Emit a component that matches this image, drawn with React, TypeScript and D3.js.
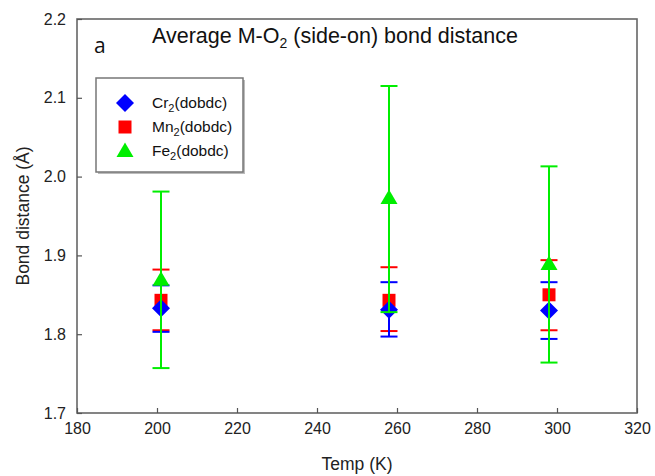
import React, { useEffect, useRef } from 'react';
import * as d3 from 'd3';

const temps = [201, 258, 298];

const crValues = [1.833, 1.831, 1.83];
const crLow = [1.803, 1.797, 1.794];
const crHigh = [1.862, 1.866, 1.866];

const mnValues = [1.843, 1.843, 1.85];
const mnLow = [1.805, 1.804, 1.805];
const mnHigh = [1.882, 1.885, 1.894];

const feValues = [1.869, 1.973, 1.889];
const feLow = [1.757, 1.828, 1.764];
const feHigh = [1.981, 2.115, 2.013];

const xTicks = [180, 200, 220, 240, 260, 280, 300, 320];
const yTicks = [1.7, 1.8, 1.9, 2.0, 2.1, 2.2];

const series = [
  { name: 'Mn', sub: '2', rest: '(dobdc)', color: '#ff0000', shape: 'square', values: mnValues, low: mnLow, high: mnHigh },
  { name: 'Cr', sub: '2', rest: '(dobdc)', color: '#0000ff', shape: 'diamond', values: crValues, low: crLow, high: crHigh },
  { name: 'Fe', sub: '2', rest: '(dobdc)', color: '#00ee00', shape: 'triangle', values: feValues, low: feLow, high: feHigh },
];
const legendOrder = ['Cr', 'Mn', 'Fe'];

const font = 'Arial, "Liberation Sans", sans-serif';

function markerPath(shape: string) {
  if (shape === 'diamond') return 'M0,-9L9,0L0,9L-9,0Z';
  if (shape === 'square') return 'M-6.5,-6.5L6.5,-6.5L6.5,6.5L-6.5,6.5Z';
  return 'M0,-8.5L8.5,6L-8.5,6Z';
}

export default function App() {
  const svgRef = useRef<SVGSVGElement>(null);

  useEffect(() => {
    const svg = d3.select(svgRef.current);
    svg.selectAll('*').remove();

    const left = 77;
    const right = 637;
    const top = 19;
    const bottom = 413;

    const x = d3.scaleLinear().domain([180, 320]).range([left, right]);
    const y = d3.scaleLinear().domain([1.7, 2.2]).range([bottom, top]);

    // frame
    svg
      .append('rect')
      .attr('x', left)
      .attr('y', top)
      .attr('width', right - left)
      .attr('height', bottom - top)
      .attr('fill', 'none')
      .attr('stroke', '#666')
      .attr('stroke-width', 1.6);

    const xAxis = svg
      .append('g')
      .attr('transform', `translate(0,${bottom})`)
      .call(d3.axisBottom(x).tickValues(xTicks).tickSize(-5).tickPadding(10).tickFormat(d3.format('d')));
    xAxis.select('.domain').remove();
    xAxis.selectAll('line').attr('stroke', '#555').attr('stroke-width', 1.2);
    xAxis
      .selectAll('text')
      .attr('fill', '#222')
      .style('font-family', font)
      .style('font-size', '16px');

    const yAxis = svg
      .append('g')
      .attr('transform', `translate(${left},0)`)
      .call(d3.axisLeft(y).tickValues(yTicks).tickSize(-5).tickPadding(11).tickFormat(d3.format('.1f')));
    yAxis.select('.domain').remove();
    yAxis.selectAll('line').attr('stroke', '#555').attr('stroke-width', 1.2);
    yAxis
      .selectAll('text')
      .attr('fill', '#222')
      .style('font-family', font)
      .style('font-size', '16px');

    svg
      .append('text')
      .attr('x', (left + right) / 2)
      .attr('y', 470)
      .attr('text-anchor', 'middle')
      .attr('fill', '#222')
      .style('font-family', font)
      .style('font-size', '17.5px')
      .text('Temp (K)');

    svg
      .append('text')
      .attr('transform', `translate(29,${(top + bottom) / 2}) rotate(-90)`)
      .attr('text-anchor', 'middle')
      .attr('fill', '#222')
      .style('font-family', font)
      .style('font-size', '17.5px')
      .text('Bond distance (Å)');

    // panel letter + title
    svg
      .append('text')
      .attr('x', 94)
      .attr('y', 53)
      .attr('fill', '#111')
      .style('font-family', '"Open Sans", sans-serif')
      .style('font-size', '21px')
      .text('a');

    const title = svg
      .append('text')
      .attr('x', 152)
      .attr('y', 43)
      .attr('fill', '#111')
      .style('font-family', font)
      .style('font-size', '21.5px');
    title.append('tspan').text('Average M-O');
    title.append('tspan').attr('dy', 5).style('font-size', '14px').text('2');
    title.append('tspan').attr('dy', -5).text(' (side-on) bond distance');

    // error bars and markers
    series.forEach((s) => {
      const g = svg.append('g');
      temps.forEach((t, i) => {
        const cx = x(t);
        g.append('line')
          .attr('x1', cx)
          .attr('x2', cx)
          .attr('y1', y(s.low[i]))
          .attr('y2', y(s.high[i]))
          .attr('stroke', s.color)
          .attr('stroke-width', 2);
        [s.low[i], s.high[i]].forEach((v) => {
          g.append('line')
            .attr('x1', cx - 8.5)
            .attr('x2', cx + 8.5)
            .attr('y1', y(v))
            .attr('y2', y(v))
            .attr('stroke', s.color)
            .attr('stroke-width', 2);
        });
      });
      g.selectAll('path.marker')
        .data(s.values)
        .join('path')
        .attr('class', 'marker')
        .attr('d', markerPath(s.shape))
        .attr('transform', (d, i) => `translate(${x(temps[i])},${y(d)})`)
        .attr('fill', s.color);
    });

    // legend
    const lg = svg.append('g');
    lg.append('rect')
      .attr('x', 98)
      .attr('y', 80)
      .attr('width', 147)
      .attr('height', 94)
      .attr('fill', '#bbb');
    lg.append('rect')
      .attr('x', 96)
      .attr('y', 78)
      .attr('width', 147)
      .attr('height', 94)
      .attr('fill', '#fff')
      .attr('stroke', '#777')
      .attr('stroke-width', 1.5);

    legendOrder.forEach((name, i) => {
      const s = series.find((d) => d.name === name)!;
      const ly = 103 + i * 24;
      lg.append('path')
        .attr('d', markerPath(s.shape))
        .attr('transform', `translate(125,${ly})`)
        .attr('fill', s.color);
      const t = lg
        .append('text')
        .attr('x', 152)
        .attr('y', ly + 5)
        .attr('fill', '#111')
        .style('font-family', font)
        .style('font-size', '15.5px');
      t.append('tspan').text(s.name);
      t.append('tspan').attr('dy', 4).style('font-size', '11px').text(s.sub);
      t.append('tspan').attr('dy', -4).text(s.rest);
    });
  }, []);

  return (
    <svg
      ref={svgRef}
      width={655}
      height={476}
      style={{ position: 'absolute', left: 0, top: 0, background: '#fff' }}
    />
  );
}
